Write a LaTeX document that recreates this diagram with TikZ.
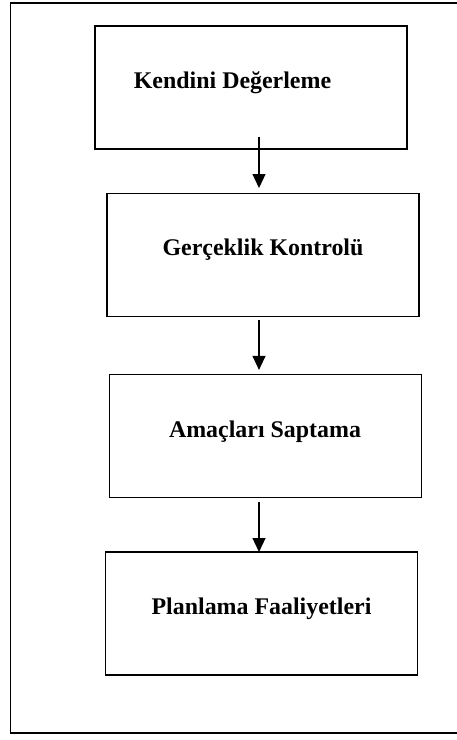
\documentclass[tikz,border=0pt]{standalone}
\usepackage{fontspec}
\setmainfont{Liberation Serif}
\usetikzlibrary{arrows.meta,calc}
\begin{document}
\begin{tikzpicture}[x=1bp,y=-1bp,
  stagebox/.style={draw=black,line width=1.4bp,rectangle,minimum width=312bp,minimum height=123bp,inner sep=0pt,outer sep=0pt},
  lbl/.style={font=\fontsize{24}{28}\selectfont\bfseries,inner sep=0pt,anchor=base},
  arr/.style={line width=1.2bp,-{Triangle[width=13bp,length=14bp]}}]
\useasboundingbox (0,0) rectangle (457,740);
\clip (0,0) rectangle (457,740);
\draw[line width=1.4bp] (480,3) -- (10.5,3) -- (10.5,733) -- (480,733);
\node[stagebox] (b1) at (251,87.5) {};
\node[stagebox] (b2) at (263,255) {};
\node[stagebox] (b3) at (265.3,435.7) {};
\node[stagebox] (b4) at (261.5,613.5) {};
\node[lbl] (t1) at (232.5,88) {Kendini Değerleme};
\node[lbl] (t2) at (263,255.7) {Gerçeklik Kontrolü};
\node[lbl] (t3) at (265,437) {Amaçları Saptama};
\node[lbl] (t4) at (261.5,614) {Planlama Faaliyetleri};
\coordinate (a1s) at ($(b1.south)+(8,-12)$);
\coordinate (a1e) at ($(b2.north)+(-4,-5.5)$);
\coordinate (a2s) at ($(b2.south)+(-4,3.7)$);
\coordinate (a2e) at ($(b3.north)+(-6.3,-4.3)$);
\coordinate (a3s) at ($(b3.south)+(-6.3,4.7)$);
\coordinate (a3e) at ($(b4.north)+(-2.5,0)$);
\draw[arr] (a1s) -- (a1e);
\draw[arr] (a2s) -- (a2e);
\draw[arr] (a3s) -- (a3e);
\end{tikzpicture}
\end{document}
